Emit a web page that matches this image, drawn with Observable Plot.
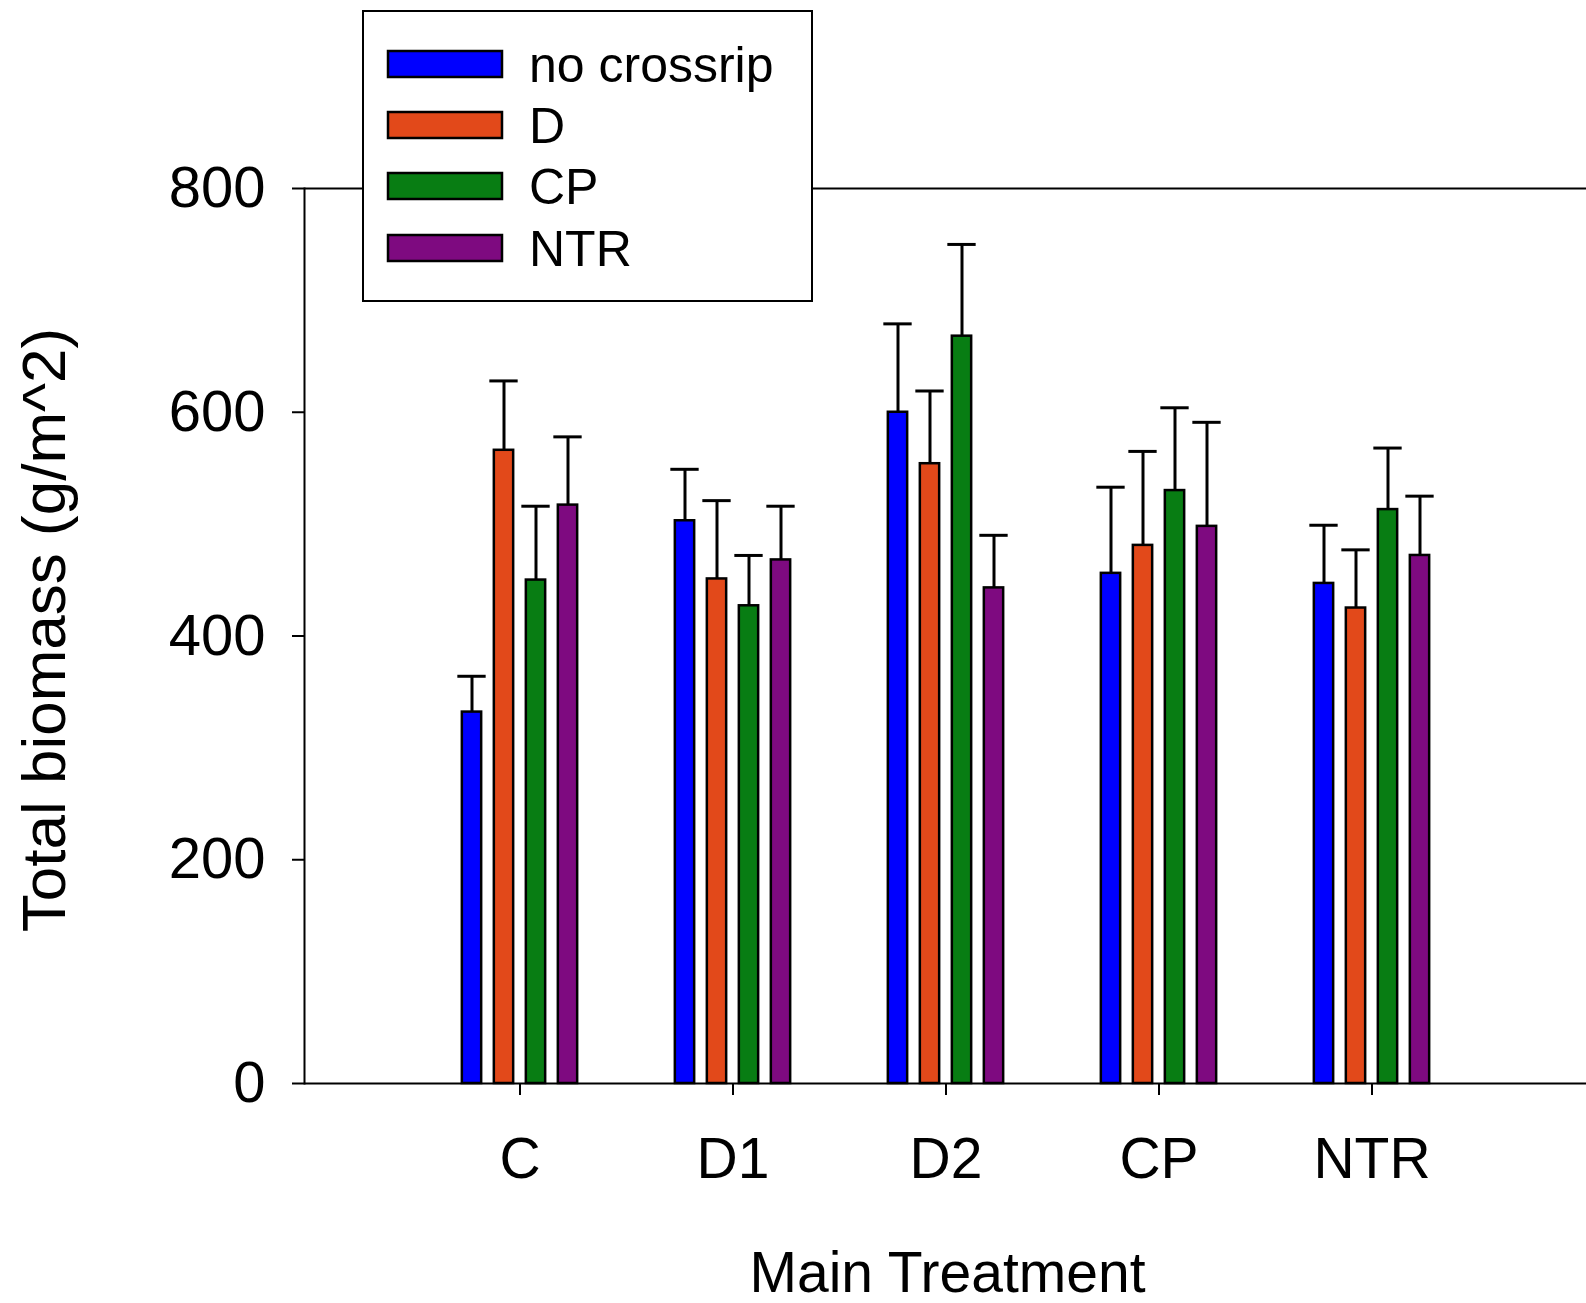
<!DOCTYPE html>
<html><head><meta charset="utf-8">
<script src="https://cdn.jsdelivr.net/npm/d3@7"></script>
<script src="https://cdn.jsdelivr.net/npm/@observablehq/plot@0.6"></script>
<style>
body{margin:0;background:#fff;}
#wrap{position:relative;width:1586px;height:1303px;overflow:hidden;font-family:"Liberation Sans",Arial,sans-serif;}
#legend{position:absolute;left:0;top:0;}
</style></head>
<body><div id="wrap"><div id="chart"></div><svg id="legend" width="1586" height="320"></svg></div>
<script>
const categories = ["C", "D1", "D2", "CP", "NTR"];
const seriesNames = ["no crossrip", "D", "CP", "NTR"];
const seriesColors = ["#0000ff", "#e2491a", "#087d13", "#7e0a80"];
const noCrossrip = [332, 503, 600, 456, 447];
const dValues    = [566, 451, 554, 481, 425];
const cpValues   = [450, 427, 668, 530, 513];
const ntrValues  = [517, 468, 443, 498, 472];
const noCrossripErr = [32, 46, 79, 77, 52];
const dErr          = [62, 70, 65, 84, 52];
const cpErr         = [66, 45, 82, 74, 55];
const ntrErr        = [61, 48, 47, 93, 53];
const yTicks = [0, 200, 400, 600, 800];
const xTitle = "Main Treatment";
const yTitle = "Total biomass (g/m^2)";

const values = [noCrossrip, dValues, cpValues, ntrValues];
const errors = [noCrossripErr, dErr, cpErr, ntrErr];

const W = 1586, H = 1303, ML = 304, MR = 0, MT = 188, MB = 220;
const step = (W - ML - MR) / (categories.length + 1);
const BAR = 20, GAP = 32, CAP = 29;
const offs = seriesNames.map((_, j) => (j - (seriesNames.length - 1) / 2) * GAP);

const marks = [];
seriesNames.forEach((s, j) => {
  const rows = categories.map((c, i) => ({cat: c, series: s, value: values[j][i], err: errors[j][i]}));
  marks.push(Plot.ruleX(rows, {x: "cat", y1: "value", y2: d => d.value + d.err, dx: offs[j], stroke: "black", strokeWidth: 3}));
  marks.push(Plot.tickY(rows, {x: "cat", y: d => d.value + d.err, dx: offs[j], insetLeft: (step - CAP) / 2, insetRight: (step - CAP) / 2, stroke: "black", strokeWidth: 3}));
  marks.push(Plot.barY(rows, {x: "cat", y1: 0, y2: "value", dx: offs[j], insetLeft: (step - BAR) / 2, insetRight: (step - BAR) / 2, fill: seriesColors[j], stroke: "black", strokeWidth: 2.5}));
});

const chart = Plot.plot({
  width: W, height: H,
  marginLeft: ML, marginRight: MR, marginTop: MT, marginBottom: MB,
  style: {fontFamily: "Liberation Sans, Arial, sans-serif", color: "black", background: "white", overflow: "visible"},
  x: {type: "band", domain: categories, paddingInner: 0, paddingOuter: 0.5},
  y: {domain: [0, 800]},
  marks: [
    Plot.ruleY([0, 800], {stroke: "black", strokeWidth: 2}),
    Plot.frame({anchor: "left", stroke: "black", strokeWidth: 2}),
    Plot.axisY({ticks: yTicks, tickSize: 12, tickPadding: 27, fontSize: 58, label: null, strokeWidth: 2}),
    Plot.axisX({tickSize: 12, tickPadding: 42, fontSize: 57, label: null, strokeWidth: 2}),
    ...marks,
    Plot.text([xTitle], {frameAnchor: "bottom", dy: 208, dx: 2, fontSize: 57, lineAnchor: "bottom", fill: "black"}),
    Plot.text([yTitle], {frameAnchor: "left", rotate: -90, dx: -240, dy: -6, fontSize: 62, textAnchor: "middle", lineAnchor: "bottom", fill: "black"})
  ]
});
document.getElementById("chart").appendChild(chart);

// legend
const lg = d3.select("#legend");
lg.append("rect").attr("x", 363).attr("y", 11).attr("width", 449).attr("height", 290)
  .attr("fill", "white").attr("stroke", "black").attr("stroke-width", 2);
const rowY = [64, 125, 186, 248];
seriesNames.forEach((s, j) => {
  lg.append("rect").attr("x", 388).attr("y", rowY[j] - 13).attr("width", 114).attr("height", 26)
    .attr("fill", seriesColors[j]).attr("stroke", "black").attr("stroke-width", 2.5);
  lg.append("text").attr("x", 529).attr("y", rowY[j] + 0.358 * 50)
    .attr("font-size", 50).attr("font-family", "Liberation Sans, Arial, sans-serif").attr("fill", "black").text(s);
});
</script>
</body></html>
